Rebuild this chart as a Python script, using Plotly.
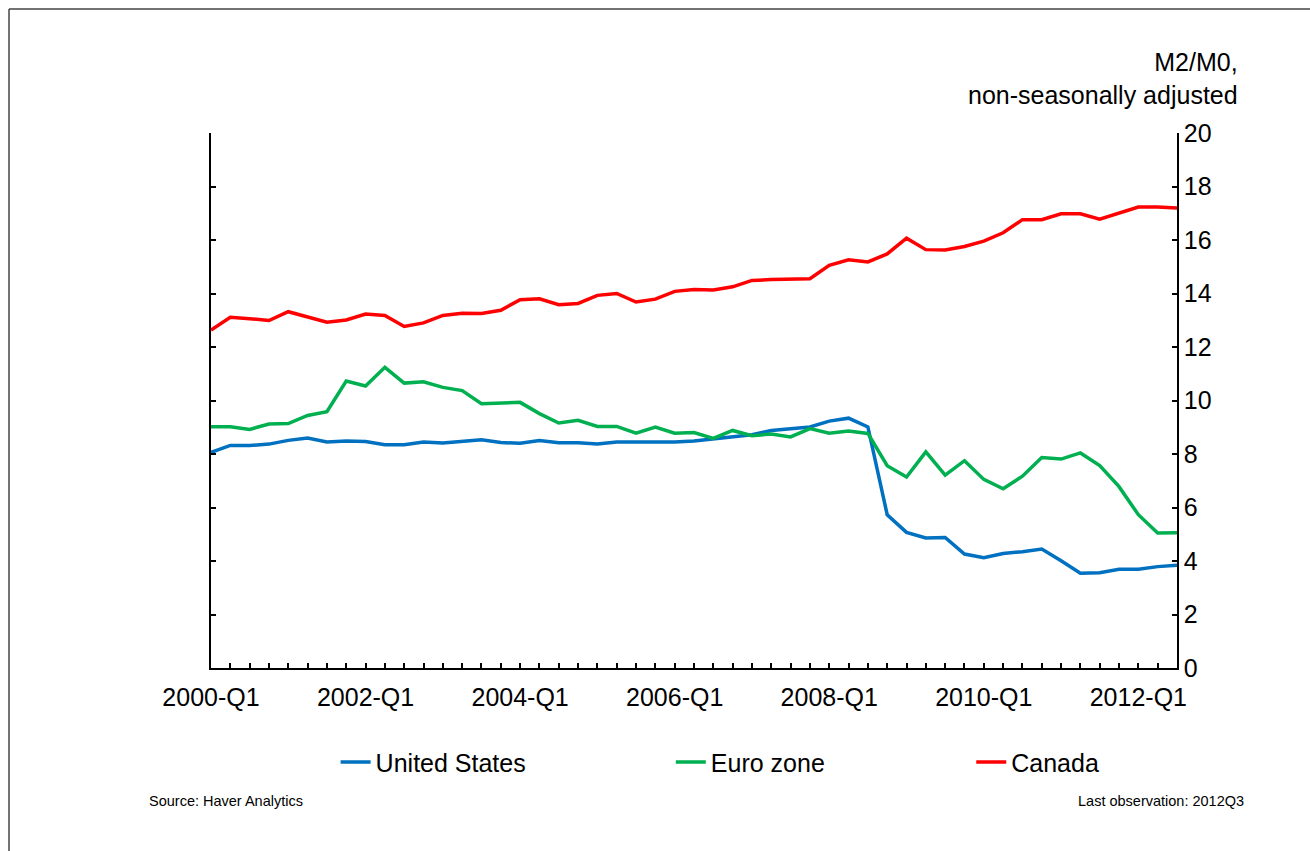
import plotly.graph_objects as go

# quarterly data, 2000-Q1 .. 2012-Q3
quarters = [f"{y}-Q{q}" for y in range(2000, 2013) for q in range(1, 5)][:51]

us = [8.06, 8.32, 8.32, 8.37, 8.51, 8.60, 8.45, 8.49, 8.47, 8.35,
      8.35, 8.45, 8.41, 8.46, 8.53, 8.43, 8.40, 8.50, 8.42, 8.42,
      8.37, 8.45, 8.45, 8.47, 8.45, 8.49, 8.56, 8.66, 8.72, 8.88,
      8.93, 9.01, 9.23, 9.34, 9.01, 5.73, 5.07, 4.86, 4.88, 4.26,
      4.12, 4.28, 4.35, 4.45, 4.01, 3.54, 3.56, 3.69, 3.69, 3.79,
      3.84]

euro = [9.02, 9.02, 8.92, 9.12, 9.14, 9.44, 9.58, 10.73, 10.54, 11.24,
        10.65, 10.70, 10.49, 10.37, 9.88, 9.92, 9.93, 9.51, 9.16, 9.26,
        9.03, 9.03, 8.78, 9.01, 8.78, 8.80, 8.58, 8.88, 8.68, 8.75,
        8.64, 8.95, 8.78, 8.86, 8.77, 7.56, 7.14, 8.08, 7.21, 7.75,
        7.05, 6.70, 7.17, 7.87, 7.81, 8.04, 7.57, 6.78, 5.73, 5.05,
        5.06]

canada = [12.63, 13.11, 13.06, 12.99, 13.32, 13.13, 12.93, 13.01, 13.23, 13.18,
          12.77, 12.90, 13.18, 13.26, 13.25, 13.37, 13.77, 13.80, 13.58, 13.63,
          13.93, 14.00, 13.68, 13.79, 14.08, 14.15, 14.13, 14.25, 14.49, 14.52,
          14.55, 14.55, 15.05, 15.26, 15.18, 15.48, 16.07, 15.64, 15.63, 15.76,
          15.96, 16.27, 16.76, 16.76, 16.98, 16.98, 16.78, 17.01, 17.23, 17.23,
          17.20]

x = list(range(len(quarters)))
tick_text = [q if (i % 8 == 0) else "" for i, q in enumerate(quarters)]

FONT = "Liberation Sans, Arial, sans-serif"

fig = go.Figure()
fig.add_trace(go.Scatter(x=x, y=us, mode="lines", name="United States",
                         line=dict(color="#0070C0", width=3.5), legend="legend"))
fig.add_trace(go.Scatter(x=x, y=euro, mode="lines", name="Euro zone",
                         line=dict(color="#00B050", width=3.5), legend="legend2"))
fig.add_trace(go.Scatter(x=x, y=canada, mode="lines", name="Canada",
                         line=dict(color="#FF0000", width=3.5), legend="legend3"))

leg = dict(orientation="h", yanchor="middle", xanchor="left", y=-0.176,
           font=dict(size=25, color="black", family=FONT), bgcolor="rgba(0,0,0,0)")

fig.update_layout(
    width=1310, height=851,
    margin=dict(l=211, r=133, t=133, b=183),
    plot_bgcolor="white", paper_bgcolor="white",
    font=dict(family=FONT, color="black", size=25),
    showlegend=True,
    legend=dict(leg, x=0.129),
    legend2=dict(leg, x=0.476),
    legend3=dict(leg, x=0.787),
    xaxis=dict(
        range=[0, 50],
        tickmode="array", tickvals=x, ticktext=tick_text,
        ticks="inside", ticklen=5, tickwidth=1.5, tickcolor="black",
        showline=True, linecolor="black", linewidth=1.5,
        showgrid=False, zeroline=False,
        tickfont=dict(size=25), ticklabelstandoff=6,
    ),
    yaxis=dict(
        range=[0, 20], dtick=2, side="right",
        ticks="inside", ticklen=5, tickwidth=1.5, tickcolor="black",
        showline=True, linecolor="black", linewidth=1.5, mirror="ticks",
        showgrid=False, zeroline=False,
        tickfont=dict(size=25),
    ),
    annotations=[
        dict(text="M2/M0,<br>non-seasonally adjusted", xref="paper", yref="paper",
             x=1.0652, y=1.041, xanchor="right", yanchor="bottom", align="right",
             showarrow=False, font=dict(size=25)),
        dict(text="Source: Haver Analytics", xref="paper", yref="paper",
             x=-0.0663, y=-0.2486, xanchor="left", yanchor="middle",
             showarrow=False, font=dict(size=14.5)),
        dict(text="Last observation: 2012Q3", xref="paper", yref="paper",
             x=1.0713, y=-0.2486, xanchor="right", yanchor="middle",
             showarrow=False, font=dict(size=14.5)),
    ],
    # frame: only the top and left edges are visible in the picture
    shapes=[
        dict(type="line", xref="paper", yref="paper",
             x0=-0.2091, x1=1.5, y0=1.2318, y1=1.2318,
             line=dict(color="#444444", width=1.5)),
        dict(type="line", xref="paper", yref="paper",
             x0=-0.2091, x1=-0.2091, y0=-0.5, y1=1.2318,
             line=dict(color="#444444", width=1.5)),
    ],
)

# drop the default page margin so the figure fills the window exactly
fig.write_html("out.html",
               config={"displayModeBar": False},
               post_script="document.body.style.margin='0';"
                           "document.body.style.overflow='hidden';")
